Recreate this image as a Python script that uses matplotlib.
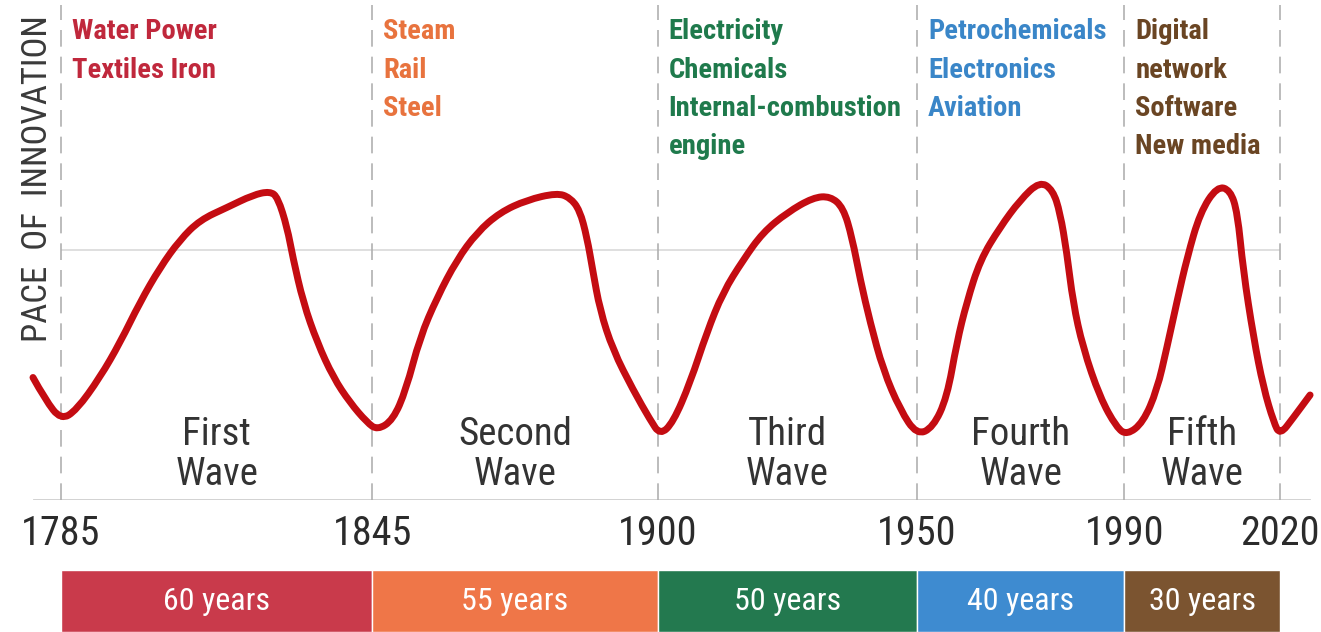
import matplotlib
matplotlib.use("Agg")
import matplotlib.pyplot as plt
from matplotlib import font_manager as fm
from matplotlib.path import Path
from matplotlib.patches import PathPatch

# ---------------- data ----------------
boundary_years = [1785, 1845, 1900, 1950, 1990, 2020]
tick_labels = ["1785", "1845", "1900", "1950", "1990", "2020"]
wave_names = ["First", "Second", "Third", "Fourth", "Fifth"]
durations = [60, 55, 50, 40, 30]
duration_labels = ["60 years", "55 years", "50 years", "40 years", "30 years"]
innovations = [
    ["Water Power", "Textiles Iron"],
    ["Steam", "Rail", "Steel"],
    ["Electricity", "Chemicals", "Internal-combustion", "engine"],
    ["Petrochemicals", "Electronics", "Aviation"],
    ["Digital", "network", "Software", "New media"],
]
text_colors = ["#c0283c", "#e8733e", "#1f7a4c", "#3a86c8", "#6a4523"]
bar_colors = ["#c93a4b", "#ef7648", "#23794f", "#3e8bd0", "#7b5430"]

# pace-of-innovation curve
curve_years = [
    1779.6, 1782.0, 1785.0, 1788.0, 1792.5, 1796.4, 1800.2, 1804.1, 1807.9, 1811.8,
    1817.0, 1822.0, 1825.3, 1826.8, 1828.6, 1829.7, 1831.7, 1834.4, 1837.5, 1840.7,
    1844.0, 1846.0,
    1849.0, 1851.5, 1854.2, 1857.5, 1861.3, 1865.2, 1869.6, 1874.8, 1880.6, 1883.1,
    1885.0, 1886.4, 1887.5, 1888.9, 1891.4, 1895.3, 1898.6, 1900.5,
    1903.0, 1906.3, 1909.5, 1912.6, 1916.5, 1920.3, 1925.0, 1930.0, 1933.3, 1935.8,
    1937.5, 1939.1, 1941.0, 1943.5, 1946.8, 1950.0,
    1953.1, 1955.8, 1957.7, 1959.6, 1962.2, 1966.0, 1969.9, 1973.7, 1976.2, 1977.6,
    1978.9, 1980.1, 1982.0, 1985.3, 1988.5, 1990.5,
    1993.6, 1996.3, 1998.2, 2000.2, 2002.1, 2004.6, 2007.9, 2010.4, 2011.8, 2012.9,
    2014.9, 2016.8, 2018.8, 2020.0, 2022.6, 2025.8,
]
curve_pace = [
    49, 40, 32, 36, 49, 63, 79, 93, 104, 112,
    117, 122, 123.5, 121, 109, 97, 79, 63, 49, 39,
    31, 28,
    32, 44, 65, 81, 96, 107, 115, 120, 122.8, 121,
    116, 105, 92, 76, 60, 44, 32, 26,
    31, 47, 67, 83, 96, 107, 115, 121, 121.5, 117,
    105, 88, 71, 52, 36, 26,
    29, 41, 63, 79, 96, 109, 120, 127.5, 124, 115,
    99, 79, 61, 41, 29, 26,
    31, 44, 61, 80, 97, 115, 125.5, 124, 115, 92,
    65, 45, 31, 26, 33, 42,
]
reference_pace = 100

# ---------------- fonts ----------------
def pick(fams, **kw):
    for f in fams:
        try:
            fm.findfont(fm.FontProperties(family=f, **kw), fallback_to_default=False)
            return f
        except Exception:
            pass
    return "DejaVu Sans"

narrow = pick(["Liberation Sans Narrow", "Roboto Condensed", "Open Sans Condensed"])
plt.rcParams["font.family"] = [narrow, "DejaVu Sans"]

W, H = 1321, 632
fig = plt.figure(figsize=(W / 100, H / 100), dpi=100)

px_per_year = (1280 - 61) / (2020 - 1785)
x0 = 1785 - 61 / px_per_year
x1 = 1785 + (W - 61) / px_per_year

ax = fig.add_axes([0, (H - 500) / H, 1, 500 / H])
ax.set_xlim(x0, x1)
ax.set_ylim(0, 200)
for s in ax.spines.values():
    s.set_visible(False)
ax.set_yticks([])

# reference line and axis line
ax.hlines(reference_pace, boundary_years[0], boundary_years[-1], color="#dcdcdc", lw=1.3, zorder=1)
ax.axhline(0, xmin=34 / W, xmax=1310 / W, color="#cfcfcf", lw=1.3, zorder=1)

# dashed boundaries
for yr in boundary_years:
    ax.axvline(yr, ymin=0, ymax=0.99, color="#b0b0b0", lw=1.2, ls=(0, (10, 6)), zorder=1)

# curve: smooth quadratic path using read points as control points
pts = list(zip(curve_years, curve_pace))
verts = [pts[0]]
codes = [Path.MOVETO]
for i in range(1, len(pts) - 1):
    mx = ((pts[i][0] + pts[i + 1][0]) / 2, (pts[i][1] + pts[i + 1][1]) / 2)
    verts += [pts[i], mx]
    codes += [Path.CURVE3, Path.CURVE3]
verts.append(pts[-1])
codes.append(Path.LINETO)
ax.add_patch(PathPatch(Path(verts, codes), facecolor="none", edgecolor="#c40c12",
                       lw=5.0, capstyle="round", joinstyle="round", zorder=3))

# ticks
ax.set_xticks(boundary_years)
ax.set_xticklabels(tick_labels, fontsize=29, color="#2b2b2b")
ax.tick_params(axis="x", length=0, pad=10)

# innovations
for yr, lines, col in zip(boundary_years[:-1], innovations, text_colors):
    for i, t in enumerate(lines):
        ax.annotate(t, xy=(yr, 184.4 - 15.4 * i), xytext=(8, 0), textcoords="offset points",
                    fontsize=20.5, fontweight="bold", color=col, ha="left", va="baseline")

# wave names
for a, b, name in zip(boundary_years[:-1], boundary_years[1:], wave_names):
    mid = (a + b) / 2
    ax.text(mid, (500 - 445) / 2.5, name, fontsize=28, color="#333333", ha="center", va="baseline")
    ax.text(mid, (500 - 485) / 2.5, "Wave", fontsize=28, color="#333333", ha="center", va="baseline")

fig.text(38 / W, 1 - 179 / H, "PACE  OF  INNOVATION", rotation=90, fontsize=25,
         color="#3a3a3a", ha="center", va="center")

# duration bars
bx = fig.add_axes([0, 0, 1, 62 / H])
bx.set_xlim(x0, x1)
bx.set_ylim(0, 1)
bx.axis("off")
bx.bar(boundary_years[:-1], [1] * len(durations), width=durations, align="edge",
       color=bar_colors, edgecolor="white", linewidth=1)
for a, d, lab in zip(boundary_years[:-1], durations, duration_labels):
    bx.text(a + d / 2, 0.5, lab, fontsize=23, color="white", ha="center", va="center")

fig.savefig("out.png", dpi=100)
